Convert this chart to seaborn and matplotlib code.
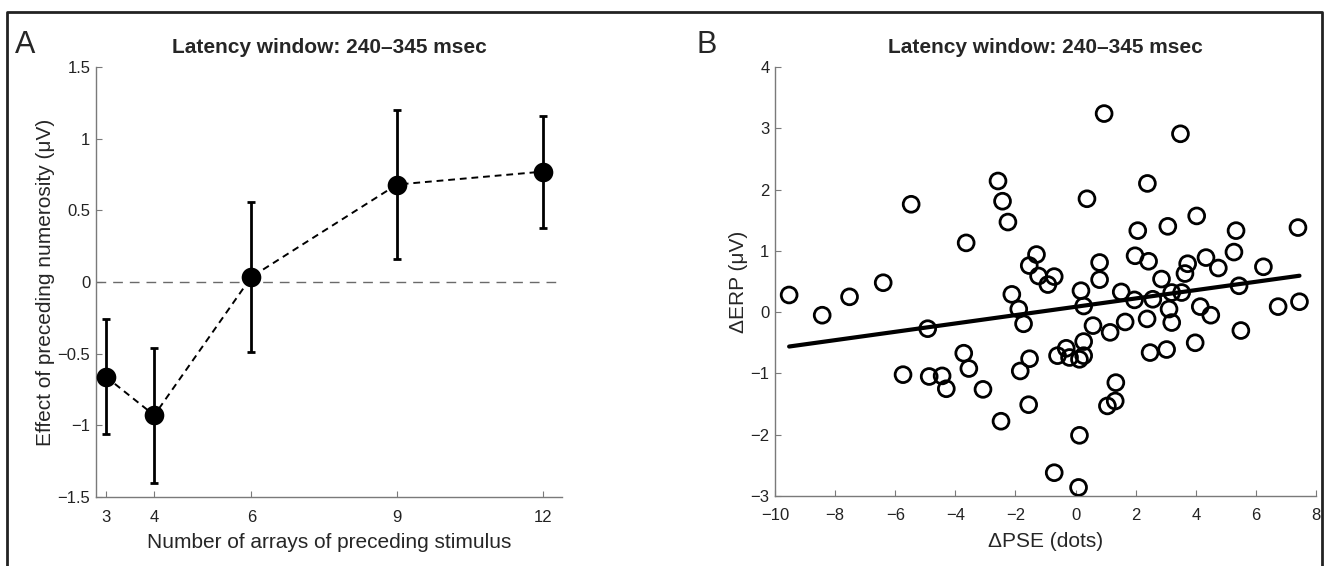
import numpy as np
import pandas as pd
import matplotlib
matplotlib.use("Agg")
import matplotlib.pyplot as plt
import seaborn as sns
from matplotlib.ticker import FuncFormatter
from matplotlib.lines import Line2D

# ---------------- Panel A data ----------------
num_arrays = [3, 4, 6, 9, 12]
effect_mean = [-0.66, -0.93, 0.035, 0.68, 0.77]
effect_err = [0.40, 0.47, 0.52, 0.52, 0.39]

# ---------------- Panel B data ----------------
dpse = [-9.53, -8.43, -7.52, -6.40, -5.47, -5.74, -4.92, -4.87, -4.44, -4.30,
        -3.72, -3.64, -3.55, -3.08, -2.58, -2.43, -2.25, -2.48, -2.12, -1.89,
        -1.73, -1.84, -1.53, -1.56, -1.30, -1.54, -1.23, -0.92, -0.71, -0.60,
        -0.31, -0.20, -0.71, 0.13, 0.27, 0.27, 0.13, 0.10, 0.18, 0.27,
        0.38, 0.58, 0.80, 0.80, 0.95, 1.06, 1.15, 1.32, 1.34, 1.52,
        1.65, 1.96, 1.98, 2.07, 2.38, 2.39, 2.43, 2.48, 2.57, 2.86,
        3.03, 3.07, 3.11, 3.20, 3.20, 3.49, 3.53, 3.64, 3.73, 3.98,
        4.03, 4.15, 4.34, 4.50, 4.75, 5.27, 5.34, 5.44, 5.50, 6.25,
        6.74, 7.40, 7.45]
derp = [0.28, -0.05, 0.25, 0.48, 1.76, -1.02, -0.27, -1.05, -1.04, -1.25,
        -0.67, 1.13, -0.92, -1.26, 2.14, 1.81, 1.47, -1.78, 0.29, 0.05,
        -0.19, -0.96, -0.76, -1.51, 0.94, 0.76, 0.59, 0.45, 0.58, -0.71,
        -0.59, -0.74, -2.62, -0.77, -0.71, -0.48, -2.01, -2.86, 0.35, 0.10,
        1.85, -0.22, 0.81, 0.53, 3.24, -1.53, -0.33, -1.45, -1.15, 0.33,
        -0.16, 0.20, 0.92, 1.33, -0.11, 2.10, 0.83, -0.66, 0.21, 0.54,
        -0.61, 1.40, 0.05, 0.32, -0.17, 2.91, 0.32, 0.63, 0.79, -0.50,
        1.57, 0.09, 0.89, -0.05, 0.72, 0.98, 1.33, 0.43, -0.30, 0.74,
        0.09, 1.38, 0.17]

title_text = "Latency window: 240\u2013345 msec"

sns.set_theme(style="white")
plt.rcParams['font.family'] = ['Liberation Sans', 'DejaVu Sans']
plt.rcParams['axes.unicode_minus'] = True

W, H = 1325, 566
fig = plt.figure(figsize=(W / 100, H / 100), dpi=100)
fig.patch.set_facecolor("white")


def px_axes(l, r, t, b):
    return fig.add_axes([l / W, 1 - b / H, (r - l) / W, (b - t) / H])


spine_col = "#7a7a7a"
fmt = FuncFormatter(lambda v, p: ("%g" % v).replace("-", "\u2212"))


def style_ax(ax):
    sns.despine(ax=ax)
    for s in ("left", "bottom"):
        ax.spines[s].set_color(spine_col)
        ax.spines[s].set_linewidth(1.0)
    ax.tick_params(direction="in", length=4, width=0.8, color=spine_col,
                   labelsize=12, labelcolor="#222222", left=True, bottom=True)
    ax.tick_params(axis="x", pad=9)
    ax.tick_params(axis="y", pad=4)
    ax.set_facecolor("white")


# ---------------- Panel A ----------------
axA = px_axes(96, 562, 67, 497)
dfA = pd.DataFrame({"n": num_arrays, "m": effect_mean, "e": effect_err})
axA.axhline(0, color="#6a6a6a", lw=1.0, ls=(0, (7, 5)), zorder=1)
axA.errorbar(dfA["n"], dfA["m"], yerr=dfA["e"], fmt="none", ecolor="black",
             elinewidth=2.0, capsize=3, capthick=2.0, zorder=2)
sns.lineplot(data=dfA, x="n", y="m", ax=axA, color="black", lw=1.4,
             linestyle=(0, (3.5, 2.5)), zorder=3)
sns.scatterplot(data=dfA, x="n", y="m", ax=axA, color="black", s=200,
                edgecolor="black", linewidth=0, zorder=4)
axA.set_xlim(2.8, 12.4)
axA.set_ylim(-1.5, 1.5)
axA.set_xticks(num_arrays)
axA.set_yticks([-1.5, -1, -0.5, 0, 0.5, 1, 1.5])
axA.xaxis.set_major_formatter(fmt)
axA.yaxis.set_major_formatter(fmt)
style_ax(axA)
axA.set_xlabel("Number of arrays of preceding stimulus", fontsize=15, labelpad=6)
axA.set_ylabel("Effect of preceding numerosity (\u03bcV)", fontsize=15, labelpad=2)
axA.set_title(title_text, fontsize=15, fontweight="bold", pad=10)

# ---------------- Panel B ----------------
axB = px_axes(775, 1316, 67, 496)
dfB = pd.DataFrame({"x": dpse, "y": derp})
sns.regplot(data=dfB, x="x", y="y", ax=axB, ci=None, scatter=False,
            line_kws={"color": "black", "lw": 3.0})
sns.scatterplot(data=dfB, x="x", y="y", ax=axB, s=130, facecolor="none",
                edgecolor="black", linewidth=2.0, zorder=3)
axB.set_xlim(-10, 8)
axB.set_ylim(-3, 4)
axB.set_xticks(range(-10, 9, 2))
axB.set_yticks(range(-3, 5))
axB.xaxis.set_major_formatter(fmt)
axB.yaxis.set_major_formatter(fmt)
style_ax(axB)
axB.set_xlabel("\u0394PSE (dots)", fontsize=15, labelpad=6)
axB.set_ylabel("\u0394ERP (\u03bcV)", fontsize=15, labelpad=2)
axB.set_title(title_text, fontsize=15, fontweight="bold", pad=10)

# panel letters
fig.text(25 / W, 1 - 45 / H, "A", fontsize=22, ha="center", va="center")
fig.text(707 / W, 1 - 45 / H, "B", fontsize=22, ha="center", va="center")

# outer frame
fl, ft, fr = 7 / W, 1 - 12 / H, 1322 / W
fig.add_artist(Line2D([fl, fl, fr, fr], [0, ft, ft, 0], transform=fig.transFigure,
                      color="#222222", lw=2.0))

fig.savefig("out.png", dpi=100, facecolor="white")
